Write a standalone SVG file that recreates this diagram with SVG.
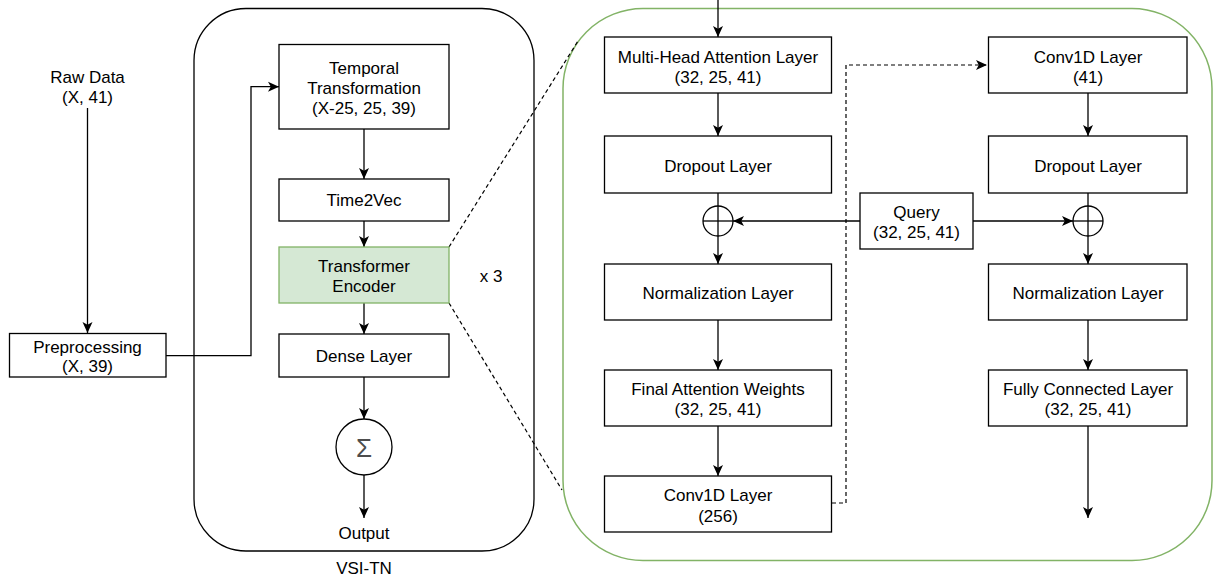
<svg xmlns="http://www.w3.org/2000/svg" width="1213" height="579" viewBox="0 0 1213 579">
  <style>
    .box { fill: #ffffff; stroke: #000000; stroke-width: 1.3; }
    .enc { fill: #d5e8d4; stroke: #82b366; stroke-width: 1.3; }
    .frame { fill: none; stroke: #000000; stroke-width: 1.3; }
    .gframe { fill: none; stroke: #82b366; stroke-width: 1.5; }
    .lbl { font-family: "Liberation Sans", Arial, sans-serif; font-size: 17px; fill: #000000; text-anchor: middle; dominant-baseline: central; }
    .edge { fill: none; stroke: #000000; stroke-width: 1.3; }
    .dash { fill: none; stroke: #000000; stroke-width: 1.2; stroke-dasharray: 4 3; }
    .op { fill: #ffffff; stroke: #000000; stroke-width: 1.3; }
  </style>
  <defs>
    <marker id="arr" viewBox="0 0 11 11" refX="11" refY="5.5" markerWidth="11" markerHeight="11" markerUnits="userSpaceOnUse" orient="auto">
      <path d="M0,0.5 L11,5.5 L0,10.5 L2.8,5.5 z" fill="#000000"/>
    </marker>
  </defs>

  <rect id="frame-vsi" class="frame" x="194" y="8.5" width="340" height="542.5" rx="52" ry="52"/>
  <rect id="frame-encoder" class="gframe" x="563" y="8.5" width="649" height="552" rx="80" ry="80"/>

  <g id="connectors">
    <!-- left pipeline -->
    <line class="edge" x1="87.5" y1="108" x2="87.5" y2="333" marker-end="url(#arr)"/>
    <polyline class="edge" points="166,355.7 251,355.7 251,86.7 279,86.7" marker-end="url(#arr)"/>
    <line class="edge" x1="364" y1="129" x2="364" y2="179" marker-end="url(#arr)"/>
    <line class="edge" x1="364" y1="221" x2="364" y2="247" marker-end="url(#arr)"/>
    <line class="edge" x1="364" y1="303" x2="364" y2="334" marker-end="url(#arr)"/>
    <line class="edge" x1="364" y1="377" x2="364" y2="419" marker-end="url(#arr)"/>
    <line class="edge" x1="364" y1="475" x2="364" y2="518" marker-end="url(#arr)"/>
    <!-- zoom guides -->
    <line class="dash" x1="449" y1="247" x2="578" y2="41"/>
    <line class="dash" x1="449" y1="303" x2="562" y2="490"/>
    <!-- encoder left column -->
    <line class="edge" x1="718" y1="0" x2="718" y2="37" marker-end="url(#arr)"/>
    <line class="edge" x1="718" y1="93" x2="718" y2="136" marker-end="url(#arr)"/>
    <line class="edge" x1="718" y1="193" x2="718" y2="206"/>
    <line class="edge" x1="718" y1="236" x2="718" y2="264" marker-end="url(#arr)"/>
    <line class="edge" x1="718" y1="320" x2="718" y2="370" marker-end="url(#arr)"/>
    <line class="edge" x1="718" y1="426" x2="718" y2="476" marker-end="url(#arr)"/>
    <line class="edge" x1="860" y1="221" x2="733" y2="221" marker-end="url(#arr)"/>
    <polyline class="dash" points="832,503 846,503 846,65 987,65" marker-end="url(#arr)"/>
    <!-- encoder right column -->
    <line class="edge" x1="1088" y1="93" x2="1088" y2="136" marker-end="url(#arr)"/>
    <line class="edge" x1="1088" y1="193" x2="1088" y2="206"/>
    <line class="edge" x1="1088" y1="236" x2="1088" y2="264" marker-end="url(#arr)"/>
    <line class="edge" x1="1088" y1="320" x2="1088" y2="370" marker-end="url(#arr)"/>
    <line class="edge" x1="1088" y1="426" x2="1088" y2="518" marker-end="url(#arr)"/>
    <line class="edge" x1="973" y1="221" x2="1073" y2="221" marker-end="url(#arr)"/>
  </g>

  <g id="raw-data">
    <text class="lbl" x="87.5" y="77">Raw Data</text>
    <text class="lbl" x="87.5" y="97">(X, 41)</text>
  </g>
  <g id="preprocessing">
    <rect class="box" x="9.5" y="333.5" width="156.5" height="43.5"/>
    <text class="lbl" x="87.5" y="347">Preprocessing</text>
    <text class="lbl" x="87.5" y="366">(X, 39)</text>
  </g>
  <g id="temporal">
    <rect class="box" x="279" y="44.5" width="170" height="84.5"/>
    <text class="lbl" x="364" y="68">Temporal</text>
    <text class="lbl" x="364" y="88">Transformation</text>
    <text class="lbl" x="364" y="108">(X-25, 25, 39)</text>
  </g>
  <g id="time2vec">
    <rect class="box" x="279" y="179" width="170" height="42"/>
    <text class="lbl" x="364" y="200">Time2Vec</text>
  </g>
  <g id="transformer-encoder">
    <rect class="enc" x="279" y="247" width="170" height="56"/>
    <text class="lbl" x="364" y="266">Transformer</text>
    <text class="lbl" x="364" y="286">Encoder</text>
  </g>
  <g id="repeat">
    <text class="lbl" x="491" y="276">x 3</text>
  </g>
  <g id="dense">
    <rect class="box" x="279" y="334" width="170" height="43"/>
    <text class="lbl" x="364" y="356">Dense Layer</text>
  </g>
  <g id="sum">
    <circle class="op" cx="364" cy="447" r="28"/>
    <text class="lbl" x="364" y="448" style="font-size:26px; fill:#4d4d4d;">Σ</text>
  </g>
  <g id="output">
    <text class="lbl" x="364" y="533">Output</text>
  </g>
  <g id="vsi-tn">
    <text class="lbl" x="364" y="568">VSI-TN</text>
  </g>

  <g id="mha">
    <rect class="box" x="604.5" y="37" width="227" height="56"/>
    <text class="lbl" x="718" y="57">Multi-Head Attention Layer</text>
    <text class="lbl" x="718" y="77">(32, 25, 41)</text>
  </g>
  <g id="dropout-1">
    <rect class="box" x="604.5" y="136" width="227" height="57"/>
    <text class="lbl" x="718" y="166">Dropout Layer</text>
  </g>
  <g id="add-1">
    <circle class="op" cx="718" cy="221" r="15"/>
    <line class="edge" x1="703" y1="221" x2="733" y2="221"/>
    <line class="edge" x1="718" y1="206" x2="718" y2="236"/>
  </g>
  <g id="norm-1">
    <rect class="box" x="604.5" y="264" width="227" height="56"/>
    <text class="lbl" x="718" y="293">Normalization Layer</text>
  </g>
  <g id="final-attention">
    <rect class="box" x="604.5" y="370" width="227" height="56"/>
    <text class="lbl" x="718" y="389">Final Attention Weights</text>
    <text class="lbl" x="718" y="409">(32, 25, 41)</text>
  </g>
  <g id="conv-256">
    <rect class="box" x="604.5" y="476" width="227" height="56"/>
    <text class="lbl" x="718" y="495">Conv1D Layer</text>
    <text class="lbl" x="718" y="516">(256)</text>
  </g>
  <g id="query">
    <rect class="box" x="860" y="193" width="113" height="56"/>
    <text class="lbl" x="916.5" y="212">Query</text>
    <text class="lbl" x="916.5" y="232">(32, 25, 41)</text>
  </g>
  <g id="conv-41">
    <rect class="box" x="988.5" y="37" width="198.5" height="56"/>
    <text class="lbl" x="1088" y="57">Conv1D Layer</text>
    <text class="lbl" x="1088" y="77">(41)</text>
  </g>
  <g id="dropout-2">
    <rect class="box" x="988.5" y="136" width="198.5" height="57"/>
    <text class="lbl" x="1088" y="166">Dropout Layer</text>
  </g>
  <g id="add-2">
    <circle class="op" cx="1088" cy="221" r="15"/>
    <line class="edge" x1="1073" y1="221" x2="1103" y2="221"/>
    <line class="edge" x1="1088" y1="206" x2="1088" y2="236"/>
  </g>
  <g id="norm-2">
    <rect class="box" x="988.5" y="264" width="198.5" height="56"/>
    <text class="lbl" x="1088" y="293">Normalization Layer</text>
  </g>
  <g id="fully-connected">
    <rect class="box" x="988.5" y="370" width="198.5" height="56"/>
    <text class="lbl" x="1088" y="389">Fully Connected Layer</text>
    <text class="lbl" x="1088" y="409">(32, 25, 41)</text>
  </g>
</svg>
